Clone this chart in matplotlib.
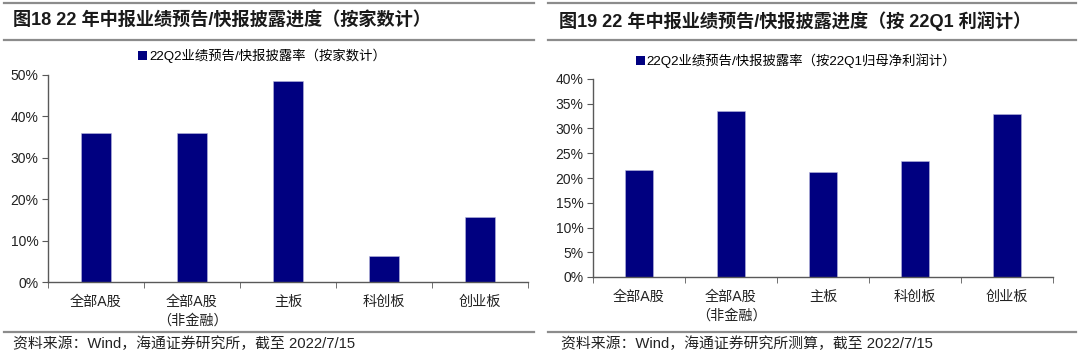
import matplotlib
matplotlib.use('Agg')
import matplotlib.pyplot as plt
import matplotlib.ticker as mticker
from matplotlib.lines import Line2D
from matplotlib.patches import Patch

# ── Data ────────────────────────────────────────────────────────────────────
categories = ['全部A股', '全部A股\n（非金融）', '主板', '科创板', '创业板']
rate_by_count = [0.359, 0.361, 0.486, 0.063, 0.157]      # 按家数计
rate_by_profit = [0.216, 0.336, 0.212, 0.235, 0.329]     # 按22Q1归母净利润计

title_left = '图18 22 年中报业绩预告/快报披露进度（按家数计）'
title_right = '图19 22 年中报业绩预告/快报披露进度（按 22Q1 利润计）'
legend_left = '22Q2业绩预告/快报披露率（按家数计）'
legend_right = '22Q2业绩预告/快报披露率（按22Q1归母净利润计）'
source_left = '资料来源：Wind，海通证券研究所，截至 2022/7/15'
source_right = '资料来源：Wind，海通证券研究所测算，截至 2022/7/15'

# ── Style ───────────────────────────────────────────────────────────────────
FONTS = ['Liberation Sans', 'Noto Sans CJK SC']
plt.rcParams['font.family'] = FONTS
BAR = '#000080'
AXIS = '#595959'
RULE = '#8c8c8c'

W, H = 1080, 361
fig = plt.figure(figsize=(W / 100, H / 100), dpi=100)


def px_axes(x0, y_top, x1, y_bot):
    return fig.add_axes([x0 / W, 1 - y_bot / H, (x1 - x0) / W, (y_bot - y_top) / H])


def draw_panel(ax, values, ymax, ystep, legend_text, legend_xy):
    x = list(range(len(categories)))
    ax.bar(x, values, width=0.31, color=BAR, edgecolor='#b8b8dc', linewidth=0.4,
           label=legend_text, zorder=2)
    ax.set_xlim(-0.5, len(categories) - 0.5)
    ax.set_ylim(0, ymax)
    ax.yaxis.set_major_locator(mticker.MultipleLocator(ystep))
    ax.yaxis.set_major_formatter(mticker.FuncFormatter(lambda v, p: f'{v * 100:.0f}%'))
    ax.set_xticks(x)
    ax.set_xticklabels(categories, fontsize=10.2, color='#222222', linespacing=1.5)
    ax.tick_params(axis='x', length=0, pad=9)
    ax.set_xticks([i - 0.5 for i in range(len(categories) + 1)], minor=True)
    ax.tick_params(axis='x', which='minor', length=4, direction='out', color=AXIS)
    ax.tick_params(axis='y', length=4, direction='out', color=AXIS, labelsize=10,
                   labelcolor='#222222', pad=3)
    for s in ('top', 'right'):
        ax.spines[s].set_visible(False)
    for s in ('left', 'bottom'):
        ax.spines[s].set_color(AXIS)
        ax.spines[s].set_linewidth(1.0)
    handle = Patch(facecolor=BAR, edgecolor='none')
    ax.legend([handle], [legend_text], loc='center',
              bbox_to_anchor=(legend_xy[0] / W, 1 - legend_xy[1] / H),
              bbox_transform=fig.transFigure, frameon=False, fontsize=9.6,
              handlelength=0.65, handleheight=0.65, handletextpad=0.15)


ax1 = px_axes(48, 75, 528, 282)
draw_panel(ax1, rate_by_count, 0.5, 0.1, legend_left, (262, 56))

ax2 = px_axes(593, 79, 1053, 277)
draw_panel(ax2, rate_by_profit, 0.4, 0.05, legend_right, (796, 61))

# ── Frame rules, titles and sources ─────────────────────────────────────────
for (xa, xb) in [(4, 534), (548, 1076)]:
    for y in (3, 40, 332):
        fig.add_artist(Line2D([xa / W, xb / W], [1 - y / H, 1 - y / H],
                              color=RULE, linewidth=1.6))

fig.text(13 / W, 1 - 21 / H, title_left, fontsize=13.1, fontweight='bold',
         ha='left', va='center', color='#1a1a1a')
fig.text(559 / W, 1 - 21 / H, title_right, fontsize=13.1, fontweight='bold',
         ha='left', va='center', color='#1a1a1a')
fig.text(13 / W, 1 - 344 / H, source_left, fontsize=10.7, ha='left', va='center',
         color='#222222')
fig.text(561 / W, 1 - 344 / H, source_right, fontsize=10.7, ha='left', va='center',
         color='#222222')

fig.savefig('out.png', dpi=100, facecolor='white')
